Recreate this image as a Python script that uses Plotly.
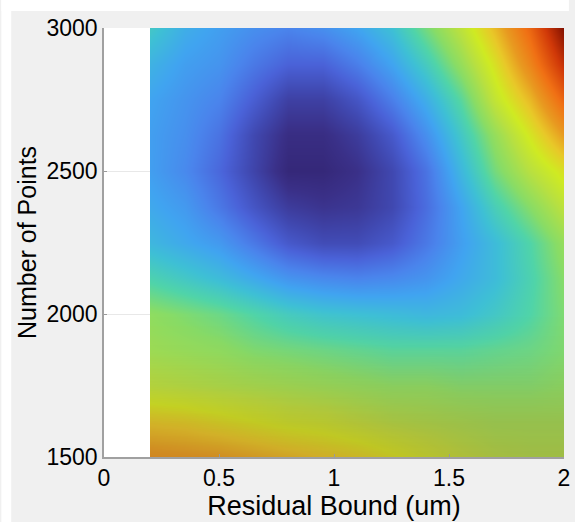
import plotly.graph_objects as go

# Residual bound (um) sample positions
residual_bound = [0.2, 0.35, 0.5, 0.65, 0.8, 0.95, 1.1, 1.25, 1.4, 1.55, 1.7, 1.85, 2.0]
# Number of points sample positions
num_points = [1500, 1625, 1750, 1875, 2000, 2125, 2250, 2375, 2500, 2625, 2750, 2875, 3000]

# Normalised response values (one row per num_points value)
row_1500 = [0.74, 0.73, 0.72, 0.70, 0.68, 0.66, 0.64, 0.61, 0.58, 0.55, 0.53, 0.52, 0.52]
row_1625 = [0.65, 0.64, 0.62, 0.60, 0.58, 0.57, 0.55, 0.53, 0.52, 0.51, 0.50, 0.50, 0.50]
row_1750 = [0.55, 0.54, 0.53, 0.52, 0.51, 0.50, 0.49, 0.48, 0.48, 0.47, 0.47, 0.47, 0.48]
row_1875 = [0.51, 0.50, 0.49, 0.47, 0.46, 0.45, 0.44, 0.43, 0.43, 0.43, 0.44, 0.45, 0.47]
row_2000 = [0.49, 0.47, 0.45, 0.42, 0.39, 0.37, 0.36, 0.35, 0.34, 0.35, 0.38, 0.42, 0.47]
row_2125 = [0.41, 0.38, 0.35, 0.31, 0.27, 0.25, 0.24, 0.25, 0.27, 0.31, 0.35, 0.41, 0.48]
row_2250 = [0.34, 0.31, 0.28, 0.22, 0.16, 0.13, 0.13, 0.16, 0.22, 0.29, 0.35, 0.42, 0.50]
row_2375 = [0.31, 0.28, 0.22, 0.15, 0.09, 0.07, 0.08, 0.12, 0.20, 0.30, 0.40, 0.48, 0.56]
row_2500 = [0.29, 0.25, 0.19, 0.11, 0.03, 0.03, 0.06, 0.12, 0.21, 0.34, 0.46, 0.55, 0.62]
row_2625 = [0.29, 0.26, 0.21, 0.12, 0.05, 0.05, 0.09, 0.16, 0.26, 0.38, 0.50, 0.61, 0.72]
row_2750 = [0.30, 0.27, 0.24, 0.17, 0.10, 0.10, 0.15, 0.23, 0.32, 0.43, 0.57, 0.68, 0.82]
row_2875 = [0.33, 0.29, 0.27, 0.22, 0.18, 0.18, 0.23, 0.30, 0.39, 0.50, 0.62, 0.76, 0.92]
row_3000 = [0.38, 0.32, 0.29, 0.26, 0.24, 0.26, 0.30, 0.36, 0.46, 0.56, 0.68, 0.82, 1.00]

# Darker, duller shading near the bottom edge of the picture (per num_points row)
bottom_shade = [1.0, 0.85, 0.45, 0.1, 0.0, 0.0, 0.0, 0.0, 0.0, 0.0, 0.0, 0.0, 0.0]

x_ticks = [0, 0.5, 1, 1.5, 2]
x_ticktext = ["0", "0.5", "1", "1.5", "2"]
y_ticks = [1500, 2000, 2500, 3000]

z = [row_1500, row_1625, row_1750, row_1875, row_2000, row_2125, row_2250,
     row_2375, row_2500, row_2625, row_2750, row_2875, row_3000]
z_shade = [[s] * len(residual_bound) for s in bottom_shade]

colorscale = [
    [0.00, "#30206a"],
    [0.06, "#3a3088"],
    [0.12, "#4048b0"],
    [0.18, "#4a62d8"],
    [0.24, "#4a84ec"],
    [0.30, "#40a4f0"],
    [0.36, "#3ec0d4"],
    [0.42, "#50d4a8"],
    [0.48, "#88dc66"],
    [0.55, "#b8e040"],
    [0.60, "#cfea22"],
    [0.66, "#e8c828"],
    [0.72, "#e89a20"],
    [0.80, "#f07014"],
    [0.90, "#d03808"],
    [1.00, "#801000"],
]
shade_scale = [[0.0, "rgba(150,110,40,0)"], [1.0, "rgba(150,110,40,0.30)"]]

fig = go.Figure()
fig.add_trace(go.Contour(
    x=residual_bound, y=num_points, z=z, zmin=0, zmax=1,
    colorscale=colorscale,
    contours=dict(coloring="heatmap", showlines=False),
    line=dict(width=0), ncontours=30, showscale=False,
))
fig.add_trace(go.Contour(
    x=residual_bound, y=num_points, z=z_shade, zmin=0, zmax=1,
    colorscale=shade_scale,
    contours=dict(coloring="heatmap", showlines=False),
    line=dict(width=0), ncontours=10, showscale=False, hoverinfo="skip",
))

W, H = 575, 522
ml, mr, mt, mb = 104, 5, 28, 65
pw, ph = W - ml - mr, H - mt - mb

# white strips at top and left edge of the picture
fig.add_shape(type="rect", xref="paper", yref="paper",
              x0=-ml / pw, x1=(W - ml) / pw, y0=1 + (mt - 11) / ph, y1=1 + mt / ph,
              fillcolor="white", line=dict(width=0), layer="below")
fig.add_shape(type="rect", xref="paper", yref="paper",
              x0=-ml / pw, x1=-(ml - 10) / pw, y0=-mb / ph, y1=1 + mt / ph,
              fillcolor="white", line=dict(width=0), layer="below")

font_family = "Liberation Sans, Arial, sans-serif"

fig.update_layout(
    width=W,
    height=H,
    margin=dict(l=ml, r=mr, t=mt, b=mb),
    paper_bgcolor="#f0f0f0",
    plot_bgcolor="white",
    font=dict(family=font_family, color="black"),
    xaxis=dict(
        range=[0, 2],
        tickvals=x_ticks,
        ticktext=x_ticktext,
        ticks="inside",
        ticklen=3,
        tickcolor="#999999",
        showline=True,
        linecolor="#a0a0a0",
        linewidth=1.5,
        showgrid=True,
        gridcolor="#e8e8e8",
        zeroline=False,
        ticklabeloverflow="allow",
        tickfont=dict(size=23),
        title=dict(text="Residual Bound (um)", font=dict(size=27), standoff=0),
    ),
    yaxis=dict(
        range=[1500, 3000],
        tickvals=y_ticks,
        ticks="inside",
        ticklen=3,
        tickcolor="#999999",
        showline=True,
        linecolor="#a0a0a0",
        linewidth=1.5,
        showgrid=True,
        gridcolor="#e8e8e8",
        zeroline=False,
        ticklabeloverflow="allow",
        tickfont=dict(size=23),
        title=dict(text="Number of Points", font=dict(size=25), standoff=3),
    ),
)

fig.write_html("out.html")
